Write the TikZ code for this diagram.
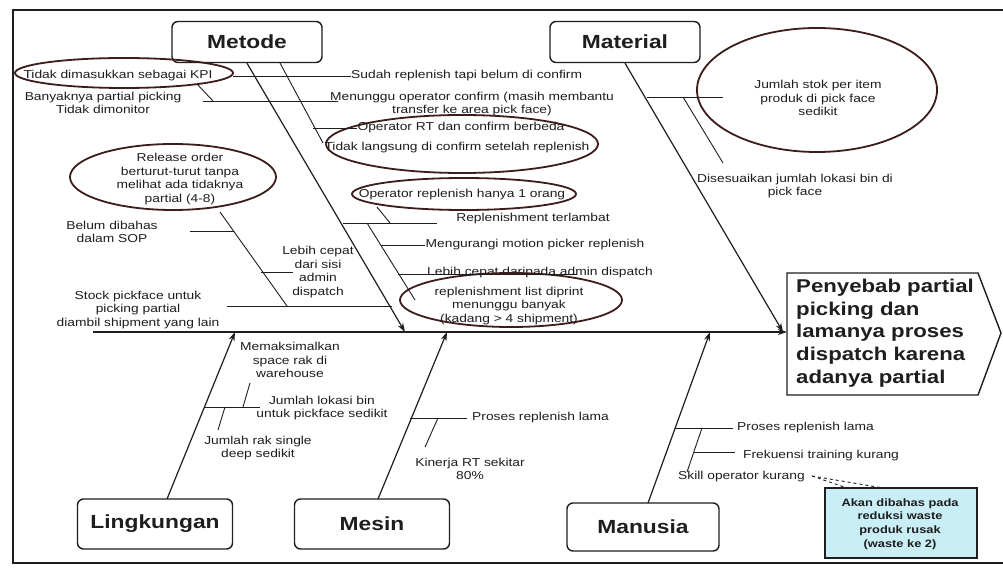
\documentclass[tikz,border=0pt]{standalone}
\usepackage{fontspec}
\setmainfont{Liberation Sans}[FakeStretch=1.2]
\usetikzlibrary{arrows.meta,shapes.geometric}
\definecolor{ink}{HTML}{1E1E1E}
\definecolor{ringc}{HTML}{3D1C1C}
\definecolor{notefill}{HTML}{C9EEF5}
\begin{document}
\begin{tikzpicture}[x=1pt,y=-1pt,
  bone/.style={draw=ink,line width=1.2pt,-{Stealth[length=9pt,width=6pt]}},
  twig/.style={draw=ink,line width=0.9pt},
  catbox/.style={draw=ink,line width=1.4pt,rounded corners=6pt,fill=white,
    font=\fontsize{19}{22}\selectfont\bfseries,text=ink,inner sep=0pt},
  txt/.style={font=\fontsize{11.5}{13.5}\selectfont,align=center,text=ink,inner sep=0pt},
  ring/.style={draw=ringc,line width=1.8pt,ellipse,inner sep=0pt},
  callout/.style={draw=ink,line width=0.9pt,dashed}]
\useasboundingbox (0,0) rectangle (1003,569);
\fill[white] (0,0) rectangle (1003,569);
% outer frame
\draw[ink,line width=2.6pt] (1003,10) -- (13,10) -- (13,563) -- (1003,563);

% category boxes
\node[catbox,minimum width=150,minimum height=41] (metode) at (247,42) {Metode};
\node[catbox,minimum width=150,minimum height=41] (material) at (625,42) {Material};
\node[catbox,minimum width=155,minimum height=50] (lingkungan) at (155,524) {Lingkungan};
\node[catbox,minimum width=155,minimum height=50] (mesin) at (372,524) {Mesin};
\node[catbox,minimum width=152,minimum height=48] (manusia) at (643,527) {Manusia};

% head of the fish
\coordinate (headL) at (787,332);
\draw[ink,line width=1.4pt,fill=white] (787,273) -- (978,273) -- (1001,333) -- (978,395) -- (787,395) -- cycle;
\node[anchor=north west,align=left,inner sep=0pt,text=ink,
  font=\fontsize{18.5}{22.6}\selectfont\bfseries] (headtxt) at (796,279)
  {Penyebab partial\\picking dan\\lamanya proses\\dispatch karena\\adanya partial};

% spine
\coordinate (spineL) at (93,332);
\draw[bone,line width=1.6pt] (spineL) -- (headL);

% main bones
\coordinate (tMetode) at (405,332);
\coordinate (tMaterial) at (783,332);
\coordinate (tLing) at (235,332);
\coordinate (tMesin) at (447,332);
\coordinate (tManusia) at (710,332);
\coordinate (sLing) at (167,499);
\coordinate (sMesin) at (378,499);
\coordinate (sManusia) at (648,503);
\draw[bone] (metode.south) -- (tMetode);
\draw[bone] (material.south) -- (tMaterial);
\draw[bone] (sLing) -- (tLing);
\draw[bone] (sMesin) -- (tMesin);
\draw[bone] (sManusia) -- (tManusia);

% ---- Metode ----
\node[ring,minimum width=218,minimum height=30] (kpiring) at (124,73) {};
\node[txt] (kpi) at (118,76) {Tidak dimasukkan sebagai KPI};
\node[txt] (banyak) at (103,103) {Banyaknya partial picking\\Tidak dimonitor};
\node[txt,anchor=west] (sudah) at (351,76) {Sudah replenish tapi belum di confirm};
\node[txt] (menunggu) at (472,104) {Menunggu operator confirm (masih membantu\\transfer ke area pick face)};
\node[ring,minimum width=272,minimum height=58] (tlring) at (462,144) {};
\node[txt] (oprt) at (461,128) {Operator RT dan confirm berbeda};
\node[txt] (tidaklangsung) at (457,148) {Tidak langsung di confirm setelah replenish};
\node[ring,minimum width=224,minimum height=32] (opring) at (464,194) {};
\node[txt] (opone) at (462,195) {Operator replenish hanya 1 orang};
\node[txt] (terlambat) at (533,219) {Replenishment terlambat};
\node[txt] (motion) at (535,245) {Mengurangi motion picker replenish};
\node[txt] (lebihcepat) at (540,273) {Lebih cepat daripada admin dispatch};
\node[ring,minimum width=222,minimum height=54] (listring) at (511,300) {};
\node[txt] (list) at (509,306) {replenishment list diprint\\menunggu banyak\\(kadang > 4 shipment)};
\node[ring,minimum width=206,minimum height=66] (relring) at (173,177) {};
\node[txt] (release) at (180,179) {Release order\\berturut-turut tanpa\\melihat ada tidaknya\\partial (4-8)};
\node[txt] (sop) at (112,232) {Belum dibahas\\dalam SOP};
\node[txt] (sisi) at (318,272) {Lebih cepat\\dari sisi\\admin\\dispatch};
\node[txt] (stock) at (138,310) {Stock pickface untuk\\picking partial\\diambil shipment yang lain};

\coordinate (mB) at (280,63);
\coordinate (mBend) at (323,143);
\draw[twig] (mB) -- (mBend);
\draw[twig] (233,76) -- (sudah.west);
\draw[twig] (203,101) -- (338,101);
\draw[twig] (197,84) -- (213,101);
\draw[twig] (313,128) -- (oprt.west);
\coordinate (rtA) at (343,223);
\coordinate (rtB) at (437,223);
\draw[twig] (rtA) -- (rtB);
\draw[twig] (377,207) -- (390,223);
\coordinate (rdA) at (367,223);
\coordinate (rdB) at (415,300);
\draw[twig] (rdA) -- (rdB);
\draw[twig] (381,245) -- (motion.west);
\draw[twig] (398,274) -- (577,274);
\coordinate (relA) at (220,212);
\coordinate (relB) at (287,306);
\draw[twig] (relA) -- (relB);
\draw[twig] (190,231) -- (234,231);
\draw[twig] (261,272) -- (293,272);
\draw[twig] (227,306) -- (392,306);

% ---- Material ----
\node[ring,minimum width=240,minimum height=124] (stokring) at (817,90) {};
\node[txt] (stok) at (818,98) {Jumlah stok per item\\produk di pick face\\sedikit};
\node[txt] (bin) at (795,186) {Disesuaikan jumlah lokasi bin di\\pick face};
\draw[twig] (647,97) -- (723,97);
\draw[twig] (683,97) -- (723,163);

% ---- Lingkungan ----
\node[txt] (space) at (290,360) {Memaksimalkan\\space rak di\\warehouse};
\node[txt] (lokasi) at (322,408) {Jumlah lokasi bin\\untuk pickface sedikit};
\node[txt] (single) at (258,448) {Jumlah rak single\\deep sedikit};
\draw[twig] (205,407) -- (260,407);
\draw[twig] (250,383) -- (243,407);
\draw[twig] (225,407) -- (218,430);

% ---- Mesin ----
\node[txt,anchor=west] (lamaM) at (472,418) {Proses replenish lama};
\node[txt] (kinerja) at (470,469) {Kinerja RT sekitar\\80\%};
\draw[twig] (410,418) -- (467,418);
\draw[twig] (438,418) -- (425,447);

% ---- Manusia ----
\node[txt,anchor=west] (lamaH) at (737,428) {Proses replenish lama};
\node[txt,anchor=west] (training) at (743,456) {Frekuensi training kurang};
\node[txt,anchor=west] (skill) at (678,477) {Skill operator kurang};
\draw[twig] (675,428) -- (733,428);
\draw[twig] (702,428) -- (687,472);
\draw[twig] (694,452) -- (735,452);

% note
\node[draw=ink,line width=1.2pt,fill=notefill,minimum width=152,minimum height=70,
  inner sep=0pt] (note) at (901,523) {};
\node[align=center,inner sep=0pt,text=ink,font=\fontsize{10.7}{13.8}\selectfont\bfseries]
  (notetxt) at (900,524) {Akan dibahas pada\\reduksi waste\\produk rusak\\(waste ke 2)};
\coordinate (cpt) at (812,476);
\draw[callout] (cpt) -- (847,488);
\draw[callout] (cpt) -- (883,488);
\end{tikzpicture}
\end{document}
